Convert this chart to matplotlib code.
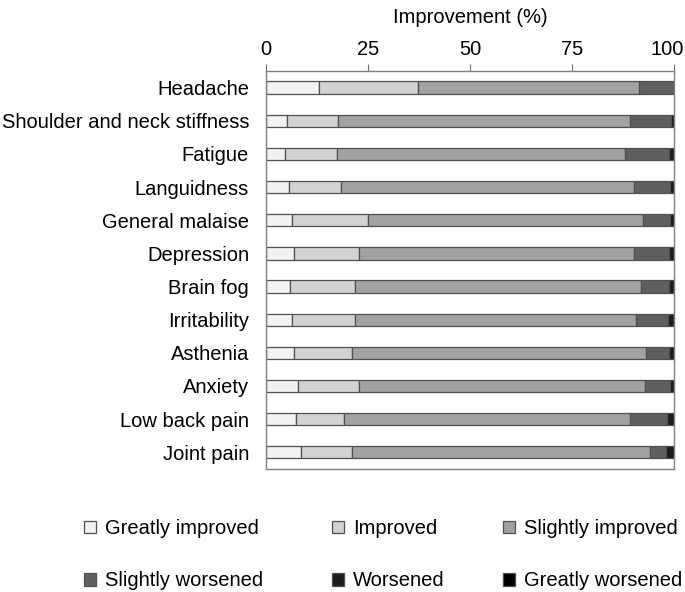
import numpy as np
import matplotlib.pyplot as plt
from matplotlib.patches import Patch
from matplotlib.transforms import ScaledTranslation

plt.rcParams['font.family'] = ['Liberation Sans', 'DejaVu Sans']

symptoms = ["Headache", "Shoulder and neck stiffness", "Fatigue", "Languidness",
            "General malaise", "Depression", "Brain fog", "Irritability",
            "Asthenia", "Anxiety", "Low back pain", "Joint pain"]

greatly_improved = [13.0, 5.1, 4.7, 5.6, 6.5, 6.9, 5.9, 6.5, 6.9, 7.9, 7.3, 8.6]
improved = [24.3, 12.6, 12.8, 12.9, 18.6, 15.9, 15.9, 15.3, 14.2, 14.9, 11.8, 12.5]
slightly_improved = [54.0, 71.4, 70.4, 71.6, 67.4, 67.4, 70.0, 68.8, 72.0, 70.0, 70.0, 72.9]
slightly_worsened = [8.7, 10.2, 10.9, 8.8, 6.4, 8.6, 7.0, 7.9, 5.7, 6.2, 9.2, 4.1]
worsened = [0.0, 0.7, 1.2, 1.1, 1.1, 1.2, 1.2, 1.5, 1.2, 1.0, 1.7, 1.9]
greatly_worsened = [0.0, 0.0, 0.0, 0.0, 0.0, 0.0, 0.0, 0.0, 0.0, 0.0, 0.0, 0.0]

labels = ["Greatly improved", "Improved", "Slightly improved",
          "Slightly worsened", "Worsened", "Greatly worsened"]
colors = ["#f2f2f2", "#d2d2d2", "#a2a2a2", "#5f5f5f", "#1c1c1c", "#000000"]
series = [greatly_improved, improved, slightly_improved,
          slightly_worsened, worsened, greatly_worsened]

fs = 14.5

fig = plt.figure(figsize=(6.85, 5.92), dpi=100)
ax = fig.add_axes([0.388, 0.208, 0.596, 0.672])

y = np.arange(len(symptoms))
left = np.zeros(len(symptoms))
for vals, c, lab in zip(series, colors, labels):
    vals = np.array(vals)
    ax.barh(y, vals, left=left, height=0.37, color=c, edgecolor="#505050",
            linewidth=0.9, label=lab)
    left += vals

ax.set_xlim(0, 100)
ax.set_ylim(len(symptoms) - 0.5, -0.5)
ax.set_yticks(y)
ax.set_yticklabels(symptoms, fontsize=fs)
ax.tick_params(axis="y", length=0, pad=12)
ax.xaxis.tick_top()
ax.xaxis.set_label_position("top")
ax.set_xticks([0, 25, 50, 75, 100])
ax.tick_params(axis="x", labelsize=fs, length=5, color="#707070", pad=4)
ax.set_xlabel("Improvement (%)", fontsize=fs, labelpad=12)
for s in ax.spines.values():
    s.set_color("#808080")
    s.set_linewidth(1.0)

# keep "100" inside the figure
last = ax.get_xticklabels()[-1]
last.set_transform(last.get_transform() + ScaledTranslation(-7 / 100, 0, fig.dpi_scale_trans))

# legend: three columns, two rows each
handles = [Patch(facecolor=c, edgecolor="#505050", linewidth=0.9) for c in colors]
col_x = [84 / 685, 332 / 685, 503 / 685]
for k, x0 in enumerate(col_x):
    leg = fig.legend([handles[k], handles[k + 3]], [labels[k], labels[k + 3]],
                     loc="center left", bbox_to_anchor=(x0, 0.063),
                     frameon=False, fontsize=fs, handlelength=0.6,
                     handleheight=0.6, handletextpad=0.45, labelspacing=1.64,
                     borderpad=0, borderaxespad=0)

fig.savefig("out.png", dpi=100)
